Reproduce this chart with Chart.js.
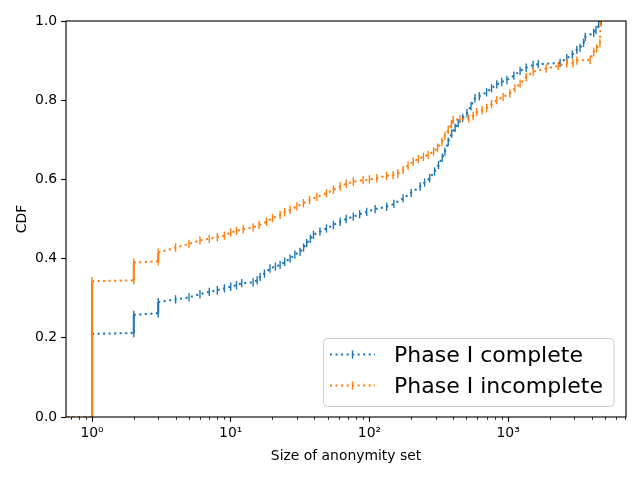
<!DOCTYPE html>
<html>
<head>
<meta charset="utf-8">
<script src="https://cdn.jsdelivr.net/npm/chart.js@4.4.1/dist/chart.umd.min.js"></script>
<style>
  html, body { margin: 0; padding: 0; background: #fff; }
  #cdfChart { display: block; }
</style>
</head>
<body>
<canvas id="cdfChart" width="640" height="480"></canvas>
<script>
// values (anonymity set size -> CDF)
const seriesNames = ['Phase I complete', 'Phase I incomplete'];
const seriesColors = ['#1f77b4', '#ff7f0e'];

const completeSize = [0.5, 1, 1, 2, 2, 3, 3, 4, 5, 6, 7, 8, 9, 10, 11, 12, 14.5, 15.5, 16.3, 17.5,
  19.2, 21, 22.7, 24.5, 26.8, 29, 31.6, 33.5, 35.3, 37.5, 39.5, 44, 49, 55, 61.5, 68, 76.5, 85, 95.6,
  110, 133, 150, 175, 200, 232, 250, 272, 295, 315, 335, 350, 370, 392, 415, 437, 470, 505, 540, 577,
  620, 700, 760, 828, 900, 980, 1100, 1220, 1350, 1515, 1650, 2370, 2650, 2900, 3130, 3300, 3500,
  3600, 4140, 4300, 4500, 4700];
const completeCdf = [0, 0, 0.21, 0.212, 0.258, 0.262, 0.29, 0.297, 0.302, 0.31, 0.316, 0.32, 0.325, 0.329, 0.333, 0.338, 0.34, 0.345, 0.354, 0.362,
  0.375, 0.38, 0.384, 0.392, 0.4, 0.41, 0.417, 0.428, 0.439, 0.45, 0.46, 0.468, 0.476, 0.485, 0.493, 0.5, 0.506, 0.512, 0.518,
  0.525, 0.531, 0.538, 0.552, 0.566, 0.582, 0.592, 0.603, 0.62, 0.636, 0.655, 0.67, 0.695, 0.716, 0.73, 0.742, 0.755, 0.767, 0.785, 0.805,
  0.81, 0.82, 0.83, 0.84, 0.846, 0.851, 0.862, 0.874, 0.882, 0.889, 0.891, 0.894, 0.906, 0.915, 0.927, 0.932, 0.945,
  0.96, 0.97, 0.977, 0.992, 1.0];

const incompleteSize = [0.5, 1, 1, 2, 2, 3, 3, 4, 5, 6, 7, 8, 9, 10, 11, 12.3, 14.5, 16, 18.1, 20,
  22.7, 24.5, 26.8, 30, 33.4, 37, 41.8, 49, 55, 61.5, 68, 76.5, 90, 100, 113, 133, 148, 160, 175, 190,
  207, 225, 245, 265, 290, 310, 333, 350, 370, 390, 402, 450, 520, 560, 594, 650, 700, 760, 828, 920,
  1030, 1120, 1220, 1350, 1515, 1880, 2300, 2650, 2930, 3130, 3900, 4140, 4350, 4590, 4650];
const incompleteCdf = [0, 0, 0.343, 0.345, 0.39, 0.393, 0.415, 0.428, 0.437, 0.446, 0.45, 0.454, 0.458, 0.466, 0.47, 0.474, 0.479, 0.485, 0.493, 0.502,
  0.51, 0.517, 0.523, 0.532, 0.54, 0.548, 0.556, 0.565, 0.574, 0.582, 0.589, 0.594, 0.598, 0.6, 0.603, 0.609, 0.611, 0.615, 0.624, 0.635,
  0.645, 0.651, 0.657, 0.662, 0.67, 0.68, 0.695, 0.71, 0.725, 0.74, 0.75, 0.752, 0.754, 0.76, 0.77, 0.775, 0.78, 0.79, 0.8, 0.808,
  0.817, 0.83, 0.842, 0.858, 0.872, 0.88, 0.887, 0.893, 0.894, 0.9, 0.902, 0.922, 0.931, 0.944, 1.0];

const xMajorTicks = [1, 10, 100, 1000];
const xTickLabels = ['10⁰', '10¹', '10²', '10³'];
const yTicks = [0, 0.2, 0.4, 0.6, 0.8, 1.0];

const PX = 100 / 72; // matplotlib points -> pixels
const FONT = '"DejaVu Sans", sans-serif';

function toPoints(xs, ys) {
    return xs.map((x, i) => ({ x: x, y: ys[i] }));
}

function makeDataset(i, xs, ys) {
    return {
        label: seriesNames[i],
        data: toPoints(xs, ys),
        borderColor: seriesColors[i],
        backgroundColor: seriesColors[i],
        borderWidth: 1.5 * PX,
        borderDash: [1.5 * PX, 2.475 * PX],
        pointStyle: 'line',
        rotation: 90,
        pointRadius: 3 * PX,
        pointBorderWidth: 1 * PX,
        pointBorderColor: seriesColors[i],
        pointHoverRadius: 3 * PX,
        order: 1 - i,
        segment: {
            // runs at the same size are drawn solid (stacked markers in the original)
            borderDash: c => c.p0.parsed.x === c.p1.parsed.x ? [] : undefined
        }
    };
}

const frame = {
    id: 'frame',
    afterDraw(chart) {
        const { ctx, chartArea: a, scales } = chart;
        const xs = scales.x;
        ctx.save();
        // minor ticks on the log axis
        ctx.strokeStyle = '#000';
        ctx.lineWidth = 0.6 * PX;
        for (let d = -1; d <= 3; d++) {
            for (let k = 2; k <= 9; k++) {
                const v = k * Math.pow(10, d);
                if (v < xs.min || v > xs.max) continue;
                const px = Math.round(xs.getPixelForValue(v)) + 0.5;
                ctx.beginPath();
                ctx.moveTo(px, a.bottom);
                ctx.lineTo(px, a.bottom + 2 * PX);
                ctx.stroke();
            }
        }
        // full box round the axes
        ctx.lineWidth = 0.8 * PX;
        ctx.strokeRect(a.left, a.top, a.right - a.left, a.bottom - a.top);

        // axis titles
        ctx.fillStyle = '#000';
        ctx.font = '13.9px ' + FONT;
        ctx.textAlign = 'center';
        ctx.textBaseline = 'alphabetic';
        ctx.fillText('Size of anonymity set', (a.left + a.right) / 2, 460);
        ctx.save();
        ctx.translate(26, (a.top + a.bottom) / 2);
        ctx.rotate(-Math.PI / 2);
        ctx.fillText('CDF', 0, 0);
        ctx.restore();

        // legend, lower right
        const bx = 323.5, by = 338.5, bw = 290.5, bh = 68, r = 4;
        ctx.beginPath();
        ctx.roundRect(bx, by, bw, bh, r);
        ctx.fillStyle = 'rgba(255,255,255,0.8)';
        ctx.fill();
        ctx.strokeStyle = '#cccccc';
        ctx.lineWidth = 1;
        ctx.stroke();

        const rows = [354.5, 385.5];
        const baselines = [362, 392.5];
        chart.data.datasets.forEach((ds, i) => {
            const y = rows[i];
            ctx.strokeStyle = ds.borderColor;
            ctx.lineWidth = ds.borderWidth;
            ctx.setLineDash(ds.borderDash);
            ctx.beginPath();
            ctx.moveTo(330, y);
            ctx.lineTo(375, y);
            ctx.stroke();
            ctx.setLineDash([]);
            ctx.lineWidth = ds.pointBorderWidth;
            ctx.beginPath();
            ctx.moveTo(352.5, y - ds.pointRadius);
            ctx.lineTo(352.5, y + ds.pointRadius);
            ctx.stroke();
            ctx.fillStyle = '#000';
            ctx.font = '22px ' + FONT;
            ctx.textAlign = 'left';
            ctx.fillText(ds.label, 394, baselines[i]);
        });
        ctx.restore();
    }
};

const chart = new Chart(document.getElementById('cdfChart'), {
    type: 'line',
    data: {
        datasets: [
            makeDataset(0, completeSize, completeCdf),
            makeDataset(1, incompleteSize, incompleteCdf)
        ]
    },
    options: {
        responsive: false,
        animation: false,
        devicePixelRatio: 1,
        layout: { padding: { top: 21, right: 14, left: 0, bottom: 0 } },
        plugins: {
            legend: { display: false },
            tooltip: { enabled: false }
        },
        scales: {
            x: {
                type: 'logarithmic',
                bounds: 'data',
                min: 0.649,
                max: 7080,
                afterBuildTicks: s => { s.ticks = xMajorTicks.map(v => ({ value: v, major: true })); },
                afterFit: s => { s.height = 63; },
                border: { display: false },
                grid: {
                    drawOnChartArea: false,
                    drawTicks: true,
                    tickLength: 3.5 * PX,
                    tickWidth: 0.8 * PX,
                    tickColor: '#000'
                },
                ticks: {
                    autoSkip: false,
                    maxRotation: 0,
                    padding: 3,
                    color: '#000',
                    font: { family: FONT, size: 13.9 },
                    callback: v => {
                        const k = xMajorTicks.indexOf(v);
                        return k >= 0 ? xTickLabels[k] : '';
                    }
                }
            },
            y: {
                min: 0,
                max: 1,
                afterBuildTicks: s => { s.ticks = yTicks.map(v => ({ value: v })); },
                afterFit: s => { s.width = 66; },
                border: { display: false },
                grid: {
                    drawOnChartArea: false,
                    drawTicks: true,
                    tickLength: 3.5 * PX,
                    tickWidth: 0.8 * PX,
                    tickColor: '#000'
                },
                ticks: {
                    padding: 4,
                    color: '#000',
                    font: { family: FONT, size: 13.9 },
                    callback: v => Number(v).toFixed(1)
                }
            }
        }
    },
    plugins: [frame]
});
</script>
</body>
</html>
